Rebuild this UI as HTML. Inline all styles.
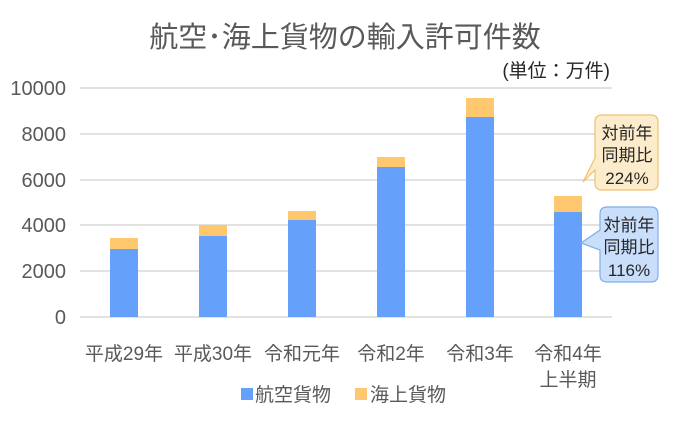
<!DOCTYPE html>
<html><head><meta charset="utf-8"><style>
html,body{margin:0;padding:0;background:#fff;width:697px;height:428px;overflow:hidden}
svg text{font-family:"Liberation Sans","Noto Sans CJK JP",sans-serif;fill:#595959}
</style></head><body>
<svg width="697" height="428" viewBox="0 0 697 428">
<text x="345" y="47" font-size="29" text-anchor="middle">航空･海上貨物の輸入許可件数</text>
<text x="610" y="77" font-size="19" text-anchor="end" style="fill:#262626">(単位：万件)</text>
<g stroke="#d9d9d9" stroke-width="1.5">
<line x1="80" x2="612" y1="88" y2="88"/><line x1="80" x2="612" y1="134" y2="134"/>
<line x1="80" x2="612" y1="180" y2="180"/><line x1="80" x2="612" y1="225" y2="225"/>
<line x1="80" x2="612" y1="271" y2="271"/><line x1="80" x2="612" y1="317" y2="317"/>
</g>
<g font-size="20" text-anchor="end">
<text x="66" y="95">10000</text><text x="66" y="141">8000</text><text x="66" y="187">6000</text>
<text x="66" y="232">4000</text><text x="66" y="278">2000</text><text x="66" y="324">0</text>
</g>
<g fill="#ffc86e">
<rect x="110" y="238" width="28" height="11"/><rect x="199" y="225" width="28" height="11"/>
<rect x="288" y="211" width="28" height="9"/><rect x="377" y="157" width="28" height="10"/>
<rect x="466" y="98" width="28" height="19"/><rect x="554" y="196" width="28" height="16"/>
</g>
<g fill="#65a0fa">
<rect x="110" y="249" width="28" height="68"/><rect x="199" y="236" width="28" height="81"/>
<rect x="288" y="220" width="28" height="97"/><rect x="377" y="167" width="28" height="150"/>
<rect x="466" y="117" width="28" height="200"/><rect x="554" y="212" width="28" height="105"/>
</g>
<g font-size="19" text-anchor="middle">
<text x="124" y="360">平成29年</text><text x="213" y="360">平成30年</text><text x="302" y="360">令和元年</text>
<text x="391" y="360">令和2年</text><text x="480" y="360">令和3年</text><text x="568" y="360">令和4年</text>
<text x="568" y="386">上半期</text>
</g>
<rect x="241" y="388" width="12" height="12" fill="#65a0fa"/>
<text x="255" y="401" font-size="19">航空貨物</text>
<rect x="355" y="388" width="12" height="12" fill="#ffc86e"/>
<text x="370" y="401" font-size="19">海上貨物</text>
<path d="M602,115 H651 Q658,115 658,122 V183 Q658,190 651,190 H602 Q595,190 595,183 V170 L583,182 L595,158 V122 Q595,115 602,115 Z" fill="#fdeccb" stroke="#f0c070" stroke-width="1.2"/>
<path d="M607,207 H651 Q658,207 658,214 V275 Q658,282 651,282 H607 Q600,282 600,275 V250 L581,243 L600,230 V214 Q600,207 607,207 Z" fill="#c9defa" stroke="#80aee8" stroke-width="1.2"/>
<g font-size="17" text-anchor="middle">
<text x="627" y="139" style="fill:#262626">対前年</text><text x="627" y="161" style="fill:#262626">同期比</text><text x="627" y="184" style="fill:#262626">224%</text>
<text x="629" y="231" style="fill:#262626">対前年</text><text x="629" y="253" style="fill:#262626">同期比</text><text x="629" y="276" style="fill:#262626">116%</text>
</g>
</svg>
</body></html>
